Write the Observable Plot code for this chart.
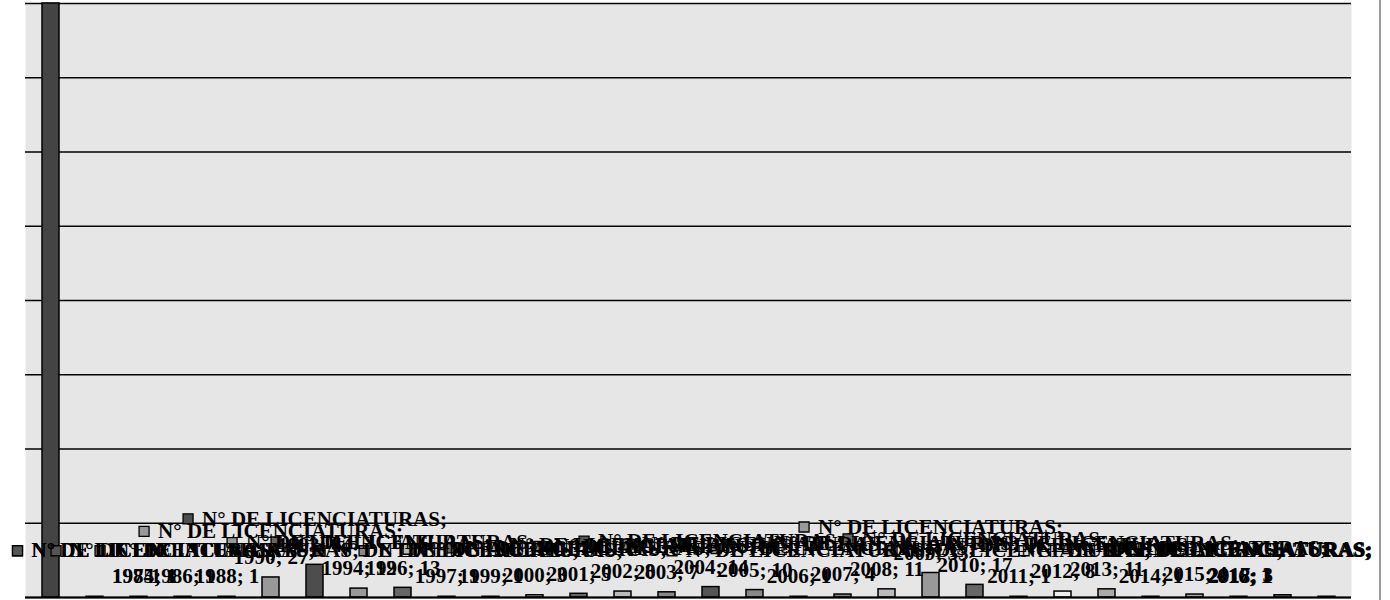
<!DOCTYPE html>
<html><head><meta charset="utf-8">
<script src="https://cdn.jsdelivr.net/npm/d3@7"></script>
<script src="https://cdn.jsdelivr.net/npm/@observablehq/plot@0.6"></script>
<style>
body{margin:0;background:#fff;}
#wrap{position:relative;width:1390px;height:600px;overflow:hidden;}
#border{position:absolute;left:1379px;top:0;width:2px;height:600px;background:#9a9a9a;}
</style></head><body><div id="wrap"><div id="border"></div></div>
<script>
// ---- data ----
const seriesName = "N° DE LICENCIATURAS";
const categories = ["S/F","1974","1985","1986","1988","1990","1993","1994","1996","1997","1999","2000","2001","2002","2003","2004","2005","2006","2007","2008","2009","2010","2011","2012","2013","2014","2015","2016","2017","2018"];
const values = [1000,1,1,1,1,27,44,12,13,1,1,3,5,8,7,14,10,1,4,11,33,17,1,8,11,1,4,1,3,1];
const yTicks = [0,100,200,300,400,500,600,700,800];
// ---- style ----
const barColors = ["#444","#555","#555","#555","#777","#999","#4d4d4d","#999","#666","#555","#888","#bbb","#666","#bbb","#888","#555","#888","#ddd","#888","#bbb","#999","#666","#999","#eee","#aaa","#ddd","#aaa","#eee","#888","#555"];

const yMax = yTicks[yTicks.length-1];
const table = categories.map((c,i)=>({cat:c, val:values[i], color:barColors[i]}));
const labels = table.filter(d => d.val <= yMax);

const FONT = "Liberation Serif";
const FS = 21;
const ctx = document.createElement("canvas").getContext("2d");
ctx.font = `bold ${FS}px "${FONT}"`;
const line1 = seriesName + ";";
const W = ctx.measureText(line1).width;
const KEY = 10, GAP = 9;
const half = (KEY + GAP + W) / 2;
const LEFT = 12, RIGHT = 1372;
function clampX(index, scales, vals, dims, context, next) {
  const bw = scales.x && scales.x.bandwidth ? scales.x.bandwidth() / 2 : 0;
  const X = Float64Array.from(vals.x, x => Math.min(Math.max(x + bw, LEFT + half), RIGHT - half) - bw);
  return next(index, scales, {...vals, x: X}, dims, context);
}

const chart = Plot.plot({
  width: 1390, height: 600,
  marginTop: 3, marginBottom: 3, marginLeft: 25, marginRight: 39,
  style: {background: "transparent", fontFamily: FONT},
  x: {type: "band", domain: categories, paddingInner: 0.615, paddingOuter: 0.3075, axis: null},
  y: {domain: [0, yMax], clamp: true, axis: null},
  color: {type: "identity"},
  marks: [
    Plot.frame({fill: "#e6e6e6"}),
    Plot.ruleY(yTicks, {stroke: "#000", strokeWidth: 1.4}),
    Plot.barY(table, {x: "cat", y: "val", fill: "color", stroke: "#000", strokeWidth: 1.5}),
    Plot.ruleY([0], {stroke: "#000", strokeWidth: 2}),
    Plot.dot(labels, {x: "cat", y: "val", dx: -half + KEY/2, dy: -46, symbol: "square", r: 5.64,
      fill: "color", stroke: "#000", strokeWidth: 1.3, render: clampX}),
    Plot.text(labels, {x: "cat", y: "val", text: d => line1, dx: -half + KEY + GAP, dy: -46,
      textAnchor: "start", fontSize: FS, fontWeight: "bold", fill: "#000", render: clampX}),
    Plot.text(labels, {x: "cat", y: "val", text: d => `${d.cat}; ${d.val}`, dy: -20,
      textAnchor: "middle", fontSize: FS, fontWeight: "bold", fill: "#000", render: clampX})
  ]
});
chart.style.position = "absolute";
chart.style.left = "0px";
chart.style.top = "0px";
document.getElementById("wrap").prepend(chart);
</script>
</body></html>
